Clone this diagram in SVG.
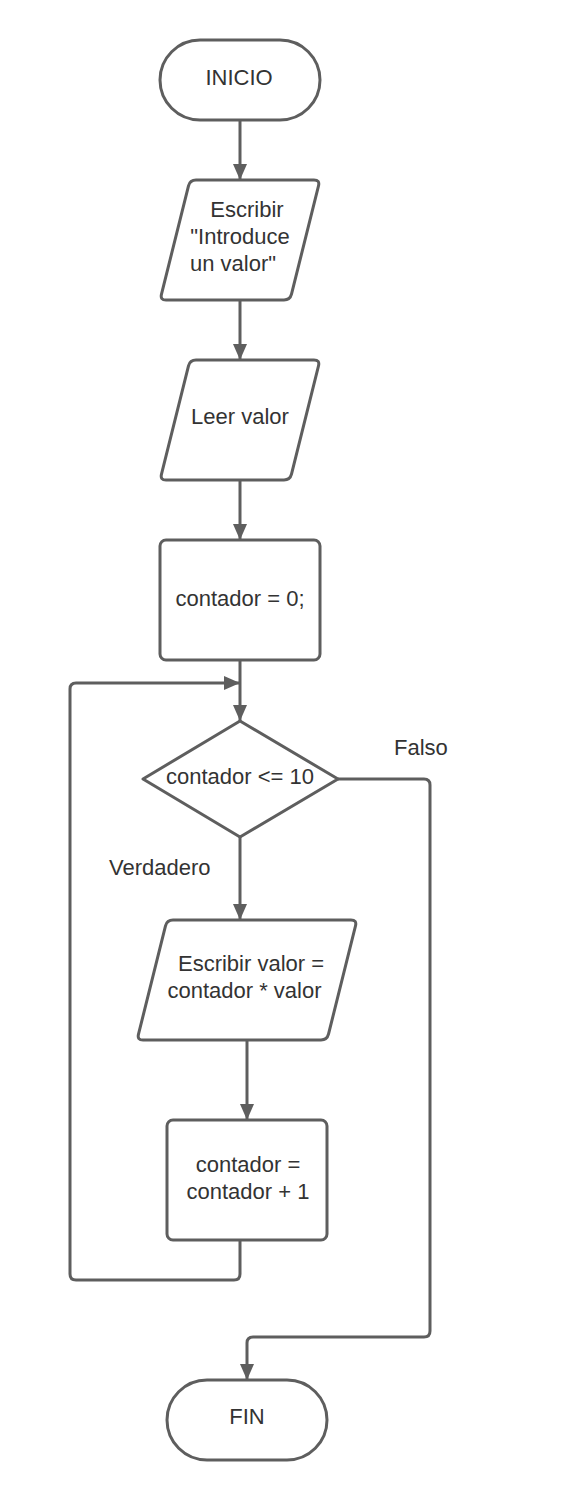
<svg xmlns="http://www.w3.org/2000/svg" width="580" height="1500" viewBox="0 0 580 1500">
<style>
.shape{fill:#ffffff;stroke:#5e5e5e;stroke-width:3;stroke-linejoin:round}
.conn{fill:none;stroke:#5e5e5e;stroke-width:3}
.t{font-family:"Liberation Sans",Arial,sans-serif;font-size:22px;fill:#333333;text-anchor:middle}
.lbl{font-family:"Liberation Sans",Arial,sans-serif;font-size:22px;fill:#333333}
</style>
<defs>
<marker id="arr" markerUnits="userSpaceOnUse" markerWidth="16" markerHeight="14" refX="16" refY="7" orient="auto">
<path d="M0,0 L16,7 L0,14 Z" fill="#5e5e5e"/>
</marker>
</defs>
<rect width="580" height="1500" fill="#ffffff"/>
<g id="connectors">
<path class="conn" d="M240,120 V180" marker-end="url(#arr)"/>
<path class="conn" d="M240,300 V360" marker-end="url(#arr)"/>
<path class="conn" d="M240,480 V540" marker-end="url(#arr)"/>
<path class="conn" d="M240,660 V721" marker-end="url(#arr)"/>
<path class="conn" d="M240,1240 V1274 Q240,1280 234,1280 H76 Q70,1280 70,1274 V689 Q70,683 76,683 H240" marker-end="url(#arr)"/>
<path class="conn" d="M240,837 V920" marker-end="url(#arr)"/>
<path class="conn" d="M247,1040 V1120" marker-end="url(#arr)"/>
<path class="conn" d="M338,779 H424 Q430,779 430,785 V1331 Q430,1337 424,1337 H253 Q247,1337 247,1343 V1380" marker-end="url(#arr)"/>
<text class="lbl" x="394" y="755">Falso</text>
<text class="lbl" x="109" y="875">Verdadero</text>
</g>
<g id="inicio">
<rect class="shape" x="160" y="40" width="160" height="80" rx="40" ry="40"/>
<text class="t" x="239" y="85">INICIO</text>
</g>
<g id="escribir1">
<path class="shape" d="M196,180 L314,180 Q320,180 318.5,185.8 L291.5,294.2 Q290,300 284,300 L166,300 Q160,300 161.5,294.2 L188.5,185.8 Q190,180 196,180 Z"/>
<text class="t" x="247" y="217">Escribir</text>
<text class="t" x="240" y="244">"Introduce</text>
<text class="t" x="233" y="271">un valor"</text>
</g>
<g id="leer">
<path class="shape" d="M196,360 L314,360 Q320,360 318.5,365.8 L291.5,474.2 Q290,480 284,480 L166,480 Q160,480 161.5,474.2 L188.5,365.8 Q190,360 196,360 Z"/>
<text class="t" x="240" y="424">Leer valor</text>
</g>
<g id="init">
<rect class="shape" x="160" y="540" width="160" height="120" rx="6" ry="6"/>
<text class="t" x="240" y="606">contador = 0;</text>
</g>
<g id="decision">
<path class="shape" d="M240,721 L338,779 L240,837 L143,779 Z"/>
<text class="t" x="240" y="784">contador &lt;= 10</text>
</g>
<g id="escribir2">
<path class="shape" d="M173,920 L351,920 Q357,920 355.5,925.8 L328.5,1034.2 Q327,1040 321,1040 L143,1040 Q137,1040 138.5,1034.2 L165.5,925.8 Q167,920 173,920 Z"/>
<text class="t" x="251" y="971">Escribir valor =</text>
<text class="t" x="244.5" y="998">contador * valor</text>
</g>
<g id="incremento">
<rect class="shape" x="167" y="1120" width="160" height="120" rx="6" ry="6"/>
<text class="t" x="248" y="1172">contador =</text>
<text class="t" x="248" y="1199">contador + 1</text>
</g>
<g id="fin">
<rect class="shape" x="167" y="1380" width="160" height="80" rx="40" ry="40"/>
<text class="t" x="247" y="1424">FIN</text>
</g>
</svg>
